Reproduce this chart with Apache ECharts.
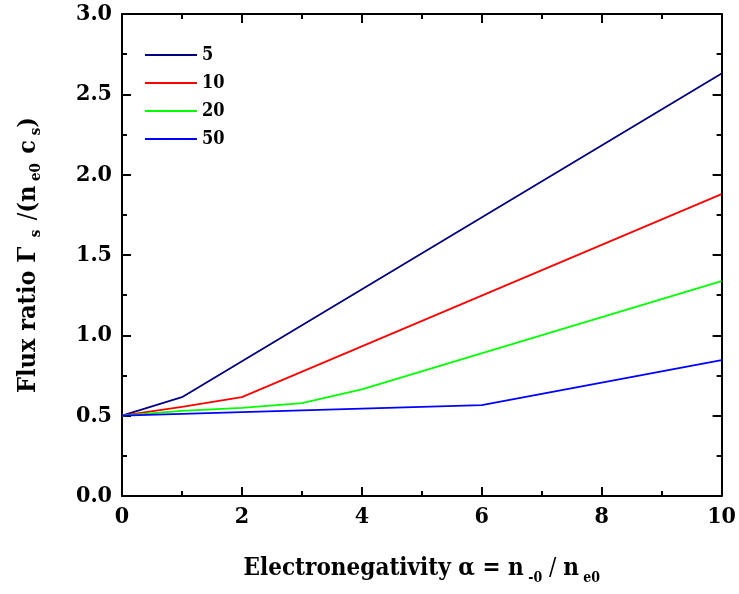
<!DOCTYPE html>
<html>
<head>
<meta charset="utf-8">
<script src="https://cdn.jsdelivr.net/npm/echarts@6/dist/echarts.min.js"></script>
<style>
  html, body { margin: 0; padding: 0; background: #fff; }
  #chart { width: 739px; height: 594px; }
</style>
</head>
<body>
<div id="chart"></div>
<script>
// Flux ratio versus electronegativity for several temperature ratios
const seriesNames = ['5', '10', '20', '50'];
const seriesColors = ['#000080', '#ff0000', '#00ff00', '#0000ff'];

// [alpha, flux ratio] vertices of each curve
const flux5 = [[0, 0.5], [1, 0.615], [10, 2.63]];
const flux10 = [[0, 0.5], [1, 0.555], [2, 0.615], [10, 1.879]];
const flux20 = [[0, 0.5], [1, 0.53], [2, 0.549], [3, 0.578], [4, 0.664], [10, 1.338]];
const flux50 = [[0, 0.5], [6, 0.566], [10, 0.846]];
const seriesData = [flux5, flux10, flux20, flux50];

const xTicks = [0, 2, 4, 6, 8, 10];
const yTicks = [0.0, 0.5, 1.0, 1.5, 2.0, 2.5, 3.0];

const FONT = 'DejaVu Serif Condensed, DejaVu Serif, serif';
const axisColor = '#000';

function frameAxis(extra) {
  return Object.assign({
    axisLine: { show: true, onZero: false, lineStyle: { color: axisColor, width: 2 } },
    axisTick: { show: true, inside: true, length: 9, lineStyle: { color: axisColor, width: 2 } },
    minorTick: { show: true, splitNumber: 2, length: 5, lineStyle: { color: axisColor, width: 2 } },
    splitLine: { show: false },
    minorSplitLine: { show: false }
  }, extra);
}

function titleRich(size, subSize) {
  return {
    m: { fontFamily: FONT, fontWeight: 'bold', fontSize: size, color: '#000', lineHeight: 32, verticalAlign: 'middle' },
    s: { fontFamily: FONT, fontWeight: 'bold', fontSize: subSize, color: '#000', lineHeight: subSize, verticalAlign: 'bottom' },
    t: { fontFamily: FONT, fontWeight: 'normal', fontSize: size, color: '#000', lineHeight: 32, verticalAlign: 'middle' }
  };
}

const labelStyle = { color: '#000', fontFamily: FONT, fontWeight: 'bold', fontSize: 23 };

const chart = echarts.init(document.getElementById('chart'), null, { renderer: 'canvas' });

chart.setOption({
  animation: false,
  backgroundColor: '#fff',
  grid: { left: 122, right: 17, top: 14, bottom: 98, containLabel: false },
  legend: {
    orient: 'vertical',
    left: 145,
    top: 46,
    padding: 0,
    icon: 'rect',
    itemWidth: 52,
    itemHeight: 2,
    itemGap: 10,
    data: seriesNames,
    textStyle: { color: '#000', fontFamily: FONT, fontWeight: 'bold', fontSize: 18, lineHeight: 18 }
  },
  xAxis: [
    frameAxis({
      type: 'value', position: 'bottom', min: xTicks[0], max: xTicks[xTicks.length - 1], interval: 2,
      axisLabel: Object.assign({ margin: 10 }, labelStyle),
      name: '{m|Electronegativity α = n}{s| -0}{t| / }{m|n}{s| e0}',
      nameLocation: 'middle',
      nameGap: 57,
      nameTextStyle: { rich: titleRich(24, 14) }
    }),
    frameAxis({
      type: 'value', position: 'top', min: xTicks[0], max: xTicks[xTicks.length - 1], interval: 2,
      axisLabel: { show: false }
    })
  ],
  yAxis: [
    frameAxis({
      type: 'value', position: 'left', min: yTicks[0], max: yTicks[yTicks.length - 1], interval: 0.5,
      axisLabel: Object.assign({ margin: 10, formatter: v => v.toFixed(1) }, labelStyle),
      name: '{m|Flux ratio Γ}{s|  s  }{t|/}{m|(n}{s| e0  }{m|c}{s| s}{m|)}',
      nameLocation: 'middle',
      nameGap: 78,
      nameRotate: 90,
      nameTextStyle: { rich: titleRich(25, 15) }
    }),
    frameAxis({
      type: 'value', position: 'right', min: yTicks[0], max: yTicks[yTicks.length - 1], interval: 0.5,
      axisLabel: { show: false }
    })
  ],
  series: seriesNames.map((name, i) => ({
    name: name,
    type: 'line',
    data: seriesData[i],
    symbol: 'none',
    xAxisIndex: 0,
    yAxisIndex: 0,
    color: seriesColors[i],
    lineStyle: { color: seriesColors[i], width: 1.8 }
  }))
});
</script>
</body>
</html>
